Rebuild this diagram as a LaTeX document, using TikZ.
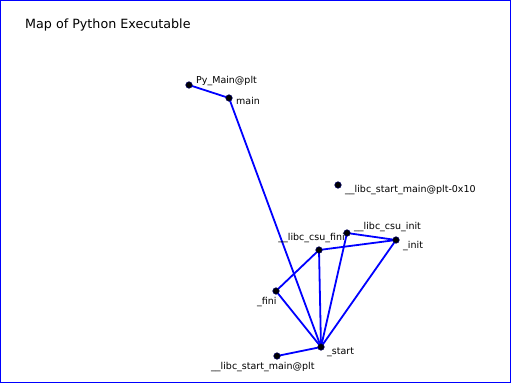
\documentclass[tikz,border=0pt]{standalone}
\usepackage{fontspec}
\setmainfont{DejaVu Sans}
\usetikzlibrary{backgrounds}
\begin{document}
\begin{tikzpicture}[x=1pt,y=-1pt,
  vert/.style={circle,fill=black,draw=blue!40!black,line width=0.6pt,inner sep=0pt,minimum size=6.5pt},
  edge/.style={blue,line width=1.8pt},
  lbl/.style={anchor=base west,inner sep=0pt,font=\fontsize{9.5}{11}\selectfont},
  lble/.style={anchor=base east,inner sep=0pt,font=\fontsize{9.5}{11}\selectfont}]
\useasboundingbox (0,0) rectangle (511,383);
\draw[blue,line width=1pt] (0.5,0.5) rectangle (510.5,382.5);
\node[anchor=base west,inner sep=0pt,font=\fontsize{12.7}{15}\selectfont] (title) at (25,28) {Map of Python Executable};
\node[vert] (pymain) at (189,85) {};
\node[vert] (main) at (229,98) {};
\node[vert] (lsm10) at (338,185) {};
\node[vert] (csuinit) at (347,233) {};
\node[vert] (init) at (396,240) {};
\node[vert] (csufini) at (319,250) {};
\node[vert] (fini) at (276,291) {};
\node[vert] (start) at (321,347) {};
\node[vert] (lsm) at (277,356) {};
\begin{scope}[on background layer]
\draw[edge] (pymain.center) -- (main.center);
\draw[edge] (main.center) -- (start.center);
\draw[edge] (start.center) -- (lsm.center);
\draw[edge] (start.center) -- (fini.center);
\draw[edge] (start.center) -- (csufini.center);
\draw[edge] (start.center) -- (csuinit.center);
\draw[edge] (start.center) -- (init.center);
\draw[edge] (fini.center) -- (csufini.center);
\draw[edge] (csufini.center) -- (init.center);
\draw[edge] (csuinit.center) -- (init.center);
\end{scope}
\node[lbl] (l1) at (196,83.5) {Py\_Main@plt};
\node[lbl] (l2) at (236,104.5) {main};
\node[lbl] (l3) at (345,192.5) {\_\_libc\_start\_main@plt-0x10};
\node[lbl] (l4) at (354,229.5) {\_\_libc\_csu\_init};
\node[lbl] (l5) at (403,248.5) {\_init};
\node[lble] (l6) at (345,240.5) {\_\_libc\_csu\_fini};
\node[lbl] (l7) at (257,304.5) {\_fini};
\node[lbl] (l8) at (327,354.5) {\_start};
\node[lbl] (l9) at (211,369.5) {\_\_libc\_start\_main@plt};
\end{tikzpicture}
\end{document}
